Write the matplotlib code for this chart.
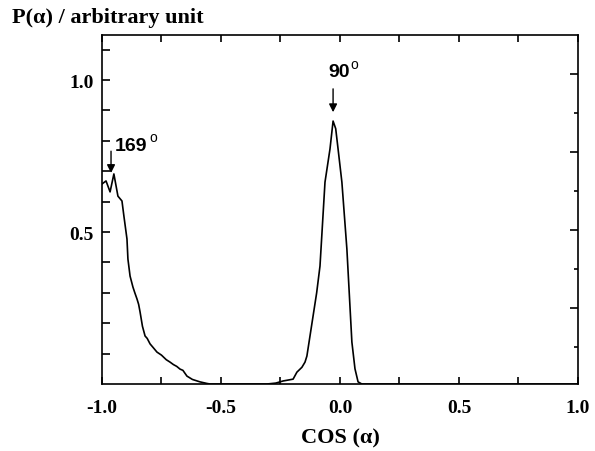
import matplotlib
matplotlib.use("Agg")
import matplotlib.pyplot as plt
import numpy as np

# distribution
cos_a = [-1.0, -0.983, -0.966, -0.95, -0.933, -0.916, -0.908, -0.895, -0.891, -0.882,
         -0.87, -0.862, -0.853, -0.846, -0.84, -0.83, -0.819, -0.81, -0.798, -0.785,
         -0.769, -0.75, -0.73, -0.714, -0.70, -0.686, -0.672, -0.66, -0.643, -0.62,
         -0.588, -0.56, -0.546, -0.45, -0.307, -0.27, -0.239, -0.197, -0.181, -0.16,
         -0.147, -0.139, -0.126, -0.113, -0.098, -0.084, -0.063, -0.042, -0.029, -0.018,
         -0.008, 0.008, 0.029, 0.05, 0.063, 0.076, 0.092, 0.3, 0.6, 1.0]
p_a = [0.658, 0.668, 0.632, 0.691, 0.618, 0.602, 0.553, 0.477, 0.411, 0.355,
       0.319, 0.30, 0.28, 0.262, 0.237, 0.19, 0.158, 0.15, 0.132, 0.12,
       0.105, 0.095, 0.08, 0.072, 0.064, 0.058, 0.049, 0.045, 0.026, 0.015,
       0.007, 0.002, 0.0, 0.0, 0.0, 0.003, 0.01, 0.016, 0.039, 0.055,
       0.072, 0.092, 0.158, 0.224, 0.30, 0.388, 0.664, 0.773, 0.865, 0.84,
       0.773, 0.664, 0.444, 0.138, 0.05, 0.007, 0.0, 0.0, 0.0, 0.0]

xticks = [-1.0, -0.5, 0.0, 0.5, 1.0]
xticklabels = ["-1.0", "-0.5", "0.0", "0.5", "1.0"]
yticks = [0.5, 1.0]
yticklabels = ["0.5", "1.0"]

serif = "Liberation Serif"
sans = "Liberation Sans"

fig = plt.figure(figsize=(5.95, 4.52), dpi=100)
ax = fig.add_axes([0.1714, 0.1482, 0.80, 0.7721])
ax.plot(cos_a, p_a, color="black", lw=1.2)
ax.set_xlim(-1.0, 1.0)
ax.set_ylim(0.0, 1.148)

for s in ax.spines.values():
    s.set_linewidth(1.2)

ax.set_xticks(xticks)
ax.set_xticklabels(xticklabels, fontfamily=serif, fontweight="bold", fontsize=14)
ax.set_xticks([-0.75, -0.25, 0.25, 0.75], minor=True)
ax.set_yticks(yticks)
ax.set_yticklabels(yticklabels, fontfamily=serif, fontweight="bold", fontsize=14)
ax.set_yticks([0.1, 0.2, 0.3, 0.4, 0.6, 0.7, 0.8, 0.9, 1.1], minor=True)
ax.tick_params(which="both", direction="in", top=True, right=False, width=1.2)
ax.tick_params(axis="x", which="both", length=5, pad=11)
ax.tick_params(axis="y", which="both", length=6, pad=6)

# right side has its own tick spacing
ax2 = ax.twinx()
ax2.set_ylim(ax.get_ylim())
ax2.set_yticks([0.25, 0.507, 0.763, 1.02])
ax2.set_yticks([0.122, 0.378, 0.635, 0.891], minor=True)
ax2.set_yticklabels([])
ax2.tick_params(which="major", direction="in", length=6, width=1.2)
ax2.tick_params(which="minor", direction="in", length=3, width=1.2)
for s in ax2.spines.values():
    s.set_visible(False)

ax.set_xlabel("COS (\u03b1)", fontfamily=serif, fontweight="bold", fontsize=16, labelpad=8)
fig.text(0.02, 0.96, "P(\u03b1) / arbitrary unit", fontfamily=serif, fontweight="bold",
         fontsize=16, va="center", ha="left")

arrow = dict(arrowstyle="-|>", color="black", lw=1.0, mutation_scale=12)
ax.annotate("", xy=(-0.029, 0.885), xytext=(-0.029, 0.98), arrowprops=arrow)
ax.text(-0.05, 1.0, "90", fontfamily=sans, fontweight="bold", fontsize=14, va="bottom", ha="left")
ax.text(0.042, 1.03, "o", fontfamily=sans, fontsize=10, va="bottom", ha="left")

ax.annotate("", xy=(-0.962, 0.685), xytext=(-0.962, 0.775), arrowprops=arrow)
ax.text(-0.945, 0.755, "169", fontfamily=sans, fontweight="bold", fontsize=14, va="bottom", ha="left")
ax.text(-0.80, 0.79, "o", fontfamily=sans, fontsize=10, va="bottom", ha="left")

fig.savefig("out.png", dpi=100)
